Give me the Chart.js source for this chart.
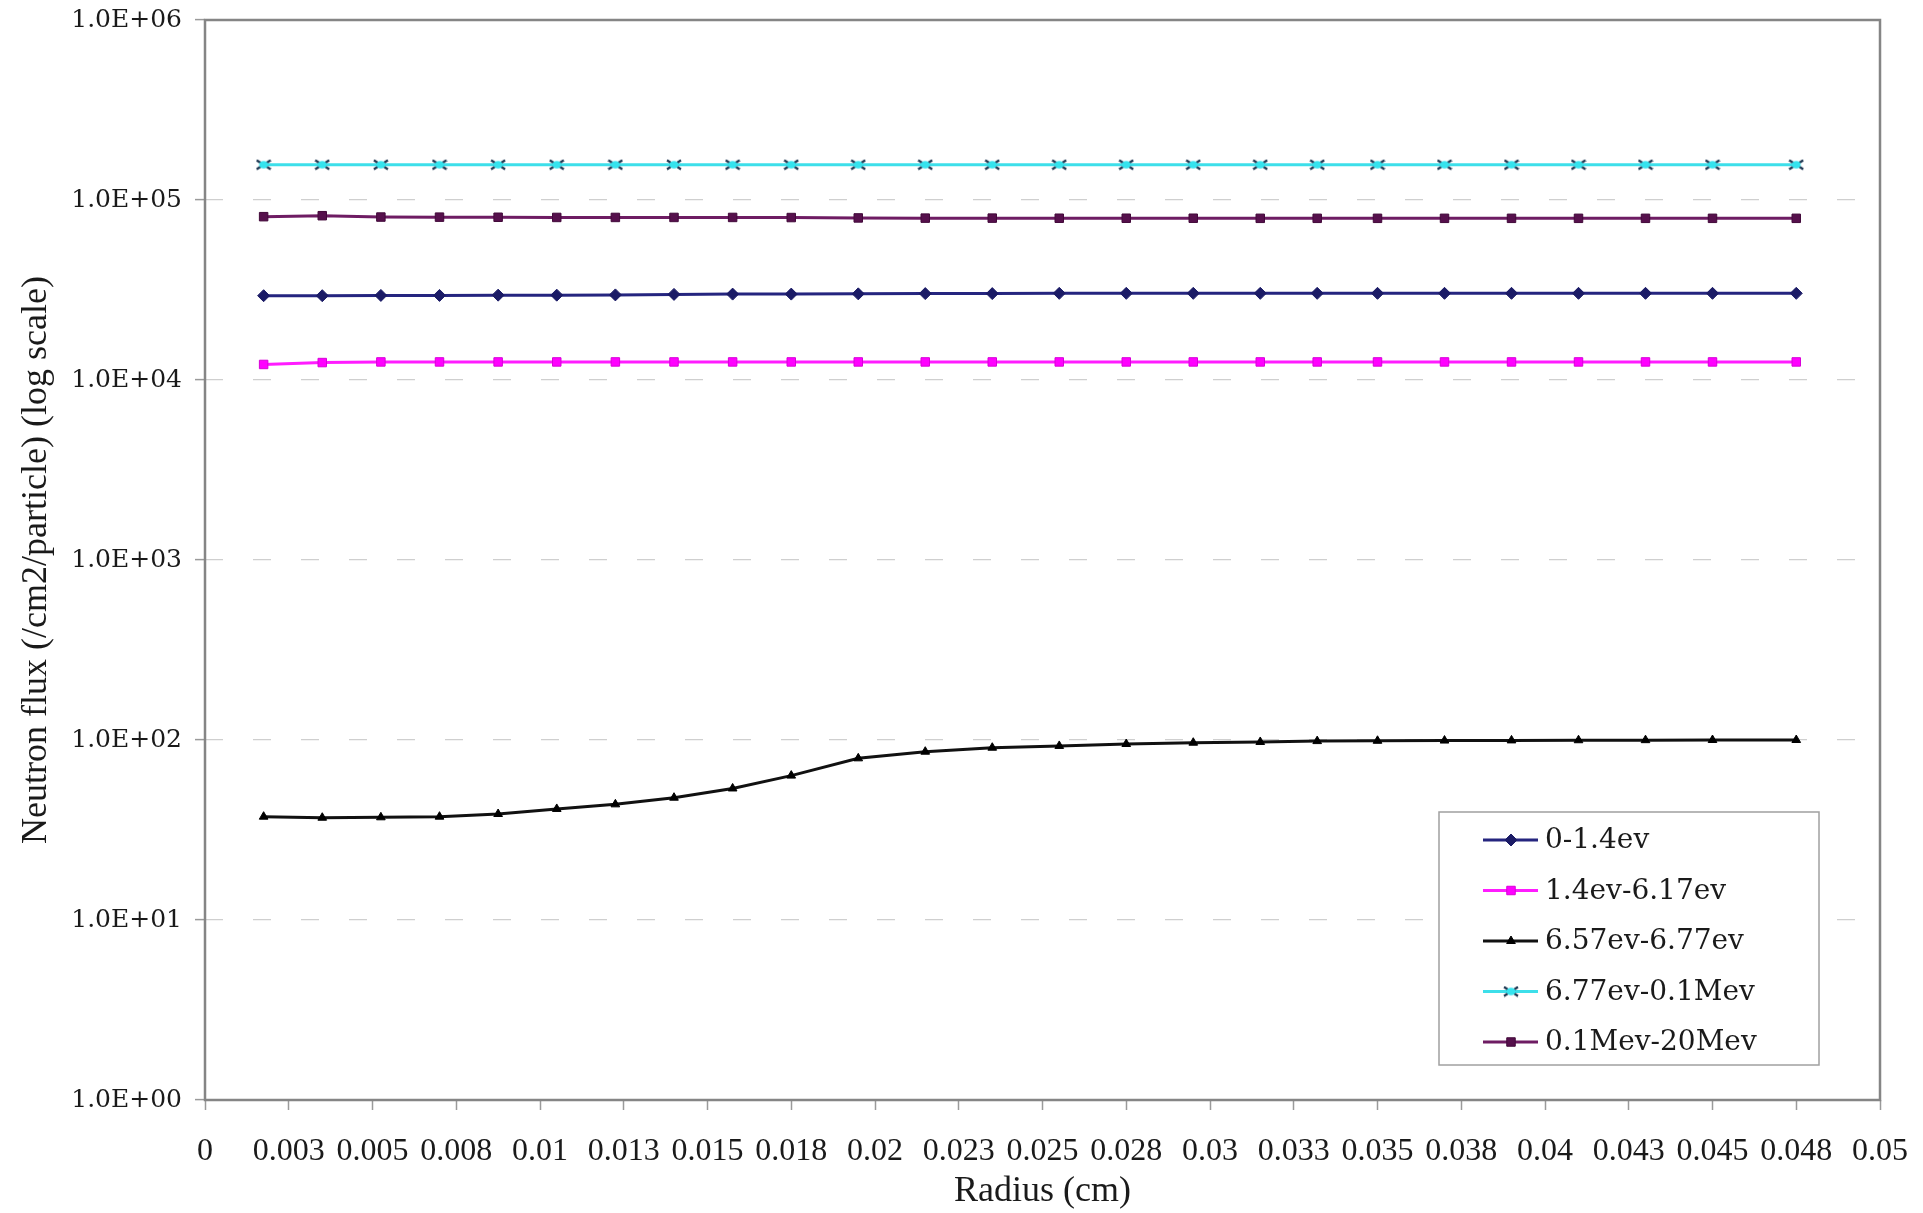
<!DOCTYPE html>
<html>
<head>
<meta charset="utf-8">
<title>Neutron flux vs radius</title>
<script src="https://cdn.jsdelivr.net/npm/chart.js@4.4.1/dist/chart.umd.min.js"></script>
<style>
  html, body { margin: 0; padding: 0; background: #ffffff; }
  #fluxChart { display: block; }
</style>
</head>
<body>
<canvas id="fluxChart" width="1923" height="1213"></canvas>
<script>
// Radius of each mesh point (cm)
const radius = [
  0.00175, 0.0035, 0.00525, 0.007, 0.00875, 0.0105, 0.01225, 0.014, 0.01575,
  0.0175, 0.0195, 0.0215, 0.0235, 0.0255, 0.0275, 0.0295, 0.0315, 0.0332,
  0.035, 0.037, 0.039, 0.041, 0.043, 0.045, 0.0475,
];

// Flux per energy group (/cm2/particle)
const flux0to1_4 = [
  29400, 29400, 29500, 29500, 29600, 29600, 29700, 29900, 30000, 30000,
  30100, 30200, 30200, 30300, 30300, 30300, 30300, 30300, 30300, 30300,
  30300, 30300, 30300, 30300, 30300,
];
const flux1_4to6_17 = [
  12200, 12500, 12600, 12600, 12600, 12600, 12600, 12600, 12600, 12600,
  12600, 12600, 12600, 12600, 12600, 12600, 12600, 12600, 12600, 12600,
  12600, 12600, 12600, 12600, 12600,
];
const flux6_57to6_77 = [
  37.5, 37.0, 37.2, 37.5, 38.8, 41.4, 43.9, 47.8, 53.8, 63.4,
  79.1, 86.1, 90.6, 92.7, 95.0, 96.6, 97.5, 98.6, 99.0, 99.3,
  99.5, 99.7, 99.8, 100, 100,
];
const flux6_77to0_1M = [
  157000, 157000, 157000, 157000, 157000, 157000, 157000, 157000, 157000, 157000,
  157000, 157000, 157000, 157000, 157000, 157000, 157000, 157000, 157000, 157000,
  157000, 157000, 157000, 157000, 157000,
];
const flux0_1Mto20M = [
  80800, 81800, 80400, 80300, 80200, 80000, 80000, 80000, 80000, 79900,
  79500, 79300, 79300, 79200, 79200, 79200, 79100, 79100, 79100, 79100,
  79100, 79100, 79100, 79100, 79100,
];

const seriesLabels = [
  "0-1.4ev",
  "1.4ev-6.17ev",
  "6.57ev-6.77ev",
  "6.77ev-0.1Mev",
  "0.1Mev-20Mev",
];

// Axis ticks
const xTickValues = [
  0, 0.0025, 0.005, 0.0075, 0.01, 0.0125, 0.015, 0.0175, 0.02, 0.0225, 0.025,
  0.0275, 0.03, 0.0325, 0.035, 0.0375, 0.04, 0.0425, 0.045, 0.0475, 0.05,
];
const xTickLabels = [
  "0", "0.003", "0.005", "0.008", "0.01", "0.013", "0.015", "0.018", "0.02",
  "0.023", "0.025", "0.028", "0.03", "0.033", "0.035", "0.038", "0.04",
  "0.043", "0.045", "0.048", "0.05",
];
const yTickValues = [1, 10, 100, 1000, 10000, 100000, 1000000];
const yTickLabels = [
  "1.0E+00", "1.0E+01", "1.0E+02", "1.0E+03", "1.0E+04", "1.0E+05", "1.0E+06",
];

// cyan marker: dark "x" with a cyan dot in the middle
function makeCyanMarker() {
  const c = document.createElement("canvas");
  c.width = 16;
  c.height = 12;
  const g = c.getContext("2d");
  g.strokeStyle = "#1c3550";
  g.lineWidth = 2.2;
  g.beginPath();
  g.moveTo(1, 1.5);
  g.lineTo(15, 10.5);
  g.moveTo(1, 10.5);
  g.lineTo(15, 1.5);
  g.stroke();
  g.fillStyle = "#35e3ee";
  g.beginPath();
  g.ellipse(8, 6, 4.5, 3.8, 0, 0, Math.PI * 2);
  g.fill();
  return c;
}

class FluxChart {
  constructor() {
    this.styles = [
      { line: "#25257f", fill: "#1b1b66", stroke: "#1b1b66", point: "rectRot", radius: 6 },
      { line: "#ff1cff", fill: "#ff00ff", stroke: "#d800d8", point: "rect", radius: 6 },
      { line: "#111111", fill: "#000000", stroke: "#000000", point: "triangle", radius: 5 },
      { line: "#3ddfea", fill: "#3ddfea", stroke: "#1f3a52", point: makeCyanMarker(), radius: 6 },
      { line: "#6e1c63", fill: "#56104c", stroke: "#420a3a", point: "rect", radius: 6 },
    ];
    this.values = [
      flux0to1_4,
      flux1_4to6_17,
      flux6_57to6_77,
      flux6_77to0_1M,
      flux0_1Mto20M,
    ];
    this.init();
  }

  init() {
    const ctx = document.getElementById("fluxChart").getContext("2d");
    this.chart = new Chart(ctx, {
      type: "line",
      data: { datasets: this.buildDatasets() },
      options: this.getOptions(),
      plugins: [this.plotBoxPlugin(), this.legendBoxPlugin()],
    });
  }

  buildDatasets() {
    return seriesLabels.map((label, i) => {
      const s = this.styles[i];
      return {
        label,
        data: radius.map((r, j) => ({ x: r, y: this.values[i][j] })),
        borderColor: s.line,
        borderWidth: 3,
        pointStyle: s.point,
        pointRadius: s.radius,
        pointBackgroundColor: s.fill,
        pointBorderColor: s.stroke,
        pointBorderWidth: 1,
        tension: 0,
        fill: false,
      };
    });
  }

  getOptions() {
    return {
      responsive: false,
      animation: false,
      layout: { padding: { left: 0, top: 20, right: 43, bottom: 0 } },
      plugins: {
        legend: { display: false },
        tooltip: { enabled: false },
      },
      scales: {
        x: {
          type: "linear",
          min: 0,
          max: 0.05,
          afterFit: (scale) => {
            scale.height = 113;
            // labels overflow into the page margin, don't shrink the plot for them
            scale.paddingLeft = 0;
            scale.paddingRight = 0;
          },
          afterBuildTicks: (scale) => {
            scale.ticks = xTickValues.map((v) => ({ value: v }));
          },
          border: { display: false },
          grid: {
            drawOnChartArea: false,
            drawTicks: true,
            tickLength: 10,
            tickColor: "#9a9a9a",
            tickWidth: 1.5,
          },
          ticks: {
            autoSkip: false,
            maxRotation: 0,
            minRotation: 0,
            padding: 22,
            color: "#1a1a1a",
            font: { family: "'Liberation Serif', serif", size: 32 },
            callback: (value, index) => xTickLabels[index],
          },
          title: {
            display: true,
            text: "Radius (cm)",
            color: "#1a1a1a",
            padding: { top: 0, bottom: 0 },
            font: { family: "'Liberation Serif', serif", size: 36 },
          },
        },
        y: {
          type: "logarithmic",
          min: 1,
          max: 1000000,
          afterFit: (scale) => {
            scale.width = 205;
            scale.paddingTop = 0;
            scale.paddingBottom = 0;
          },
          afterBuildTicks: (scale) => {
            scale.ticks = yTickValues.map((v) => ({ value: v }));
          },
          border: { display: false, dash: [18, 30] },
          grid: {
            color: "#cfcfcf",
            lineWidth: 1.2,
            drawTicks: true,
            tickLength: 10,
            tickColor: "#9a9a9a",
            tickWidth: 1.5,
            tickBorderDash: [],
          },
          ticks: {
            autoSkip: false,
            padding: 13,
            color: "#1a1a1a",
            font: { family: "'DejaVu Serif', serif", size: 25 },
            callback: (value, index) => yTickLabels[index],
          },
          title: {
            display: true,
            text: "Neutron flux (/cm2/particle) (log scale)",
            color: "#1a1a1a",
            padding: { top: 15, bottom: 0 },
            font: { family: "'Liberation Serif', serif", size: 36 },
          },
        },
      },
    };
  }

  plotBoxPlugin() {
    return {
      id: "plotBox",
      beforeDatasetsDraw(chart) {
        const { left, top, right, bottom } = chart.chartArea;
        const ctx = chart.ctx;
        ctx.save();
        ctx.strokeStyle = "#858585";
        ctx.lineWidth = 2.5;
        ctx.strokeRect(left, top, right - left, bottom - top);
        ctx.restore();
      },
    };
  }

  legendBoxPlugin() {
    return {
      id: "legendBox",
      afterDatasetsDraw(chart) {
        const { right, bottom } = chart.chartArea;
        const ctx = chart.ctx;
        const boxX = right - 441;
        const boxY = bottom - 288;
        const boxW = 380;
        const boxH = 253;

        ctx.save();
        ctx.fillStyle = "#ffffff";
        ctx.fillRect(boxX, boxY, boxW, boxH);
        ctx.strokeStyle = "#a0a0a0";
        ctx.lineWidth = 1.5;
        ctx.strokeRect(boxX, boxY, boxW, boxH);

        ctx.font = "28px 'DejaVu Serif', serif";
        ctx.textBaseline = "middle";
        ctx.textAlign = "left";

        chart.data.datasets.forEach((ds, i) => {
          const y = boxY + 28 + i * 50.5;
          ctx.strokeStyle = ds.borderColor;
          ctx.lineWidth = 3;
          ctx.beginPath();
          ctx.moveTo(boxX + 44, y);
          ctx.lineTo(boxX + 99, y);
          ctx.stroke();

          ctx.fillStyle = ds.pointBackgroundColor;
          ctx.strokeStyle = ds.pointBorderColor;
          ctx.lineWidth = ds.pointBorderWidth;
          Chart.helpers.drawPoint(
            ctx,
            { pointStyle: ds.pointStyle, radius: ds.pointRadius, rotation: 0, borderWidth: ds.pointBorderWidth },
            boxX + 72,
            y
          );

          ctx.fillStyle = "#1a1a1a";
          ctx.fillText(ds.label, boxX + 106, y + 1);
        });
        ctx.restore();
      },
    };
  }
}

new FluxChart();
</script>
</body>
</html>
